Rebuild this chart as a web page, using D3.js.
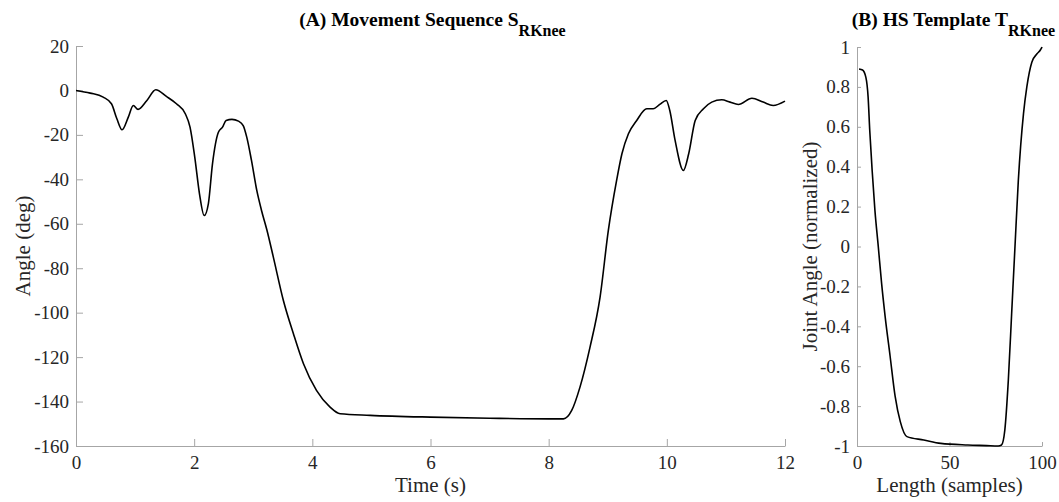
<!DOCTYPE html>
<html>
<head>
<meta charset="utf-8">
<script src="https://cdn.jsdelivr.net/npm/d3@7"></script>
<style>
  body { margin: 0; background: #fff; }
  svg text { font-family: "Liberation Serif", "Times New Roman", serif; }
</style>
</head>
<body>
<svg id="chart" width="1059" height="502"></svg>
<script>
// (A) movement sequence, right knee angle
var seqTime = [0, 0.24, 0.46, 0.6, 0.69, 0.78, 0.885, 0.97, 1.05, 1.2,
  1.35, 1.53, 1.7, 1.85, 1.93, 2.01, 2.09, 2.17, 2.24, 2.31,
  2.41, 2.48, 2.54, 2.64, 2.75, 2.83, 2.89, 2.97, 3.06, 3.14,
  3.23, 3.34, 3.51, 3.68, 3.85, 4.07, 4.3, 4.47, 4.98, 6.0,
  7.0, 8.0, 8.25, 8.39, 8.53, 8.7, 8.87, 9.01, 9.15, 9.24,
  9.35, 9.49, 9.66, 9.77, 9.88, 9.99, 10.05, 10.14, 10.28, 10.37,
  10.48, 10.62, 10.76, 10.93, 11.07, 11.21, 11.44, 11.63, 11.8, 12];
var seqAngle = [0, -1.2, -3, -6, -12.6, -17.7, -12, -6.75, -8.5, -4.5,
  0.3, -2.7, -6, -10.5, -16.5, -30, -46.5, -56.3, -51, -33,
  -18.8, -16.5, -13.5, -13, -13.8, -15.8, -21, -31.5, -45, -54,
  -62.7, -75, -94.5, -109.5, -123, -135, -142.5, -145.5, -146.2, -147,
  -147.5, -147.8, -147.8, -144, -133.5, -115.5, -93, -63, -40.5, -28.5,
  -19.5, -13.5, -8.25, -8.25, -6.3, -4.5, -9, -22.5, -36, -28.5,
  -13.5, -8.25, -5.25, -4.2, -5.25, -6.3, -3.5, -5.25, -6.75, -4.8];
var seqXTicks = [0, 2, 4, 6, 8, 10, 12];
var seqYTicks = [20, 0, -20, -40, -60, -80, -100, -120, -140, -160];

// (B) heel-strike template, normalized
var tplSample = [1.1, 3, 4.8, 6, 6.9, 8.2, 9.7, 11.5, 13.3, 15.2,
  17.9, 20.6, 23.4, 27, 36.1, 45.3, 59.9, 70, 76.3, 78.1,
  79.9, 81.8, 83.6, 85.4, 87.2, 90, 91.8, 94.5, 97.3, 99.1, 100];
var tplAngle = [0.89, 0.885, 0.848, 0.75, 0.58, 0.38, 0.18, 0, -0.185, -0.35,
  -0.55, -0.75, -0.878, -0.953, -0.97, -0.987, -0.995, -0.998, -1, -0.995,
  -0.92, -0.67, -0.335, 0, 0.33, 0.666, 0.8, 0.924, 0.966, 0.985, 1.0];
var tplXTicks = [0, 50, 100];
var tplYTicks = [1, 0.8, 0.6, 0.4, 0.2, 0, -0.2, -0.4, -0.6, -0.8, -1];

var svg = d3.select("#chart");
var axisColor = "#a6a6a6";
var labelColor = "#262626";
var serif = "'Liberation Serif', 'Times New Roman', serif";

function plain(d) { return String(d); }  // keep ascii hyphen like the original

function drawPanel(opt) {
  var x = d3.scaleLinear().domain(opt.xDomain).range([opt.left, opt.right]);
  var y = d3.scaleLinear().domain(opt.yDomain).range([opt.bottom, opt.top]);

  var xAxis = svg.append("g")
    .attr("transform", "translate(0," + opt.bottom + ")")
    .call(d3.axisBottom(x).tickValues(opt.xTicks)
      .tickSizeInner(-opt.tick).tickSizeOuter(0).tickPadding(10)
      .tickFormat(plain));
  var yAxis = svg.append("g")
    .attr("transform", "translate(" + opt.left + ",0)")
    .call(d3.axisLeft(y).tickValues(opt.yTicks)
      .tickSizeInner(-opt.tick).tickSizeOuter(0).tickPadding(7)
      .tickFormat(plain));

  [xAxis, yAxis].forEach(function(a) {
    a.attr("font-family", serif).attr("font-size", 19);
    a.select(".domain").attr("stroke", axisColor).attr("stroke-width", 1);
    a.selectAll(".tick line").attr("stroke", axisColor);
    a.selectAll(".tick text")
      .attr("fill", labelColor)
      .attr("font-family", serif)
      .attr("font-size", 19);
  });

  var points = opt.xs.map(function(d, i) { return [d, opt.ys[i]]; });
  var line = d3.line()
    .x(function(d) { return x(d[0]); })
    .y(function(d) { return y(d[1]); })
    .curve(d3.curveMonotoneX);

  svg.append("path")
    .datum(points)
    .attr("d", line)
    .attr("fill", "none")
    .attr("stroke", "#000")
    .attr("stroke-width", 1.6)
    .attr("stroke-linejoin", "round");

  // title with subscript
  var title = svg.append("text")
    .attr("x", (opt.left + opt.right) / 2 + opt.titleShift)
    .attr("y", 26)
    .attr("text-anchor", "middle")
    .attr("fill", "#000")
    .style("font-weight", "bold")
    .style("font-size", "19.5px");
  title.append("tspan").text(opt.title);
  title.append("tspan").attr("dy", 10).style("font-size", "16px").text("RKnee");

  svg.append("text")
    .attr("x", (opt.left + opt.right) / 2)
    .attr("y", 492)
    .attr("text-anchor", "middle")
    .attr("fill", labelColor)
    .style("font-size", "21px")
    .text(opt.xLabel);

  svg.append("text")
    .attr("transform", "translate(" + opt.yLabelX + "," + (opt.top + opt.bottom) / 2 + ") rotate(-90)")
    .attr("text-anchor", "middle")
    .attr("fill", labelColor)
    .style("font-size", "21px")
    .text(opt.yLabel);
}

drawPanel({
  left: 76, right: 785, top: 46, bottom: 446, tick: 7,
  xDomain: [0, 12], yDomain: [-160, 20],
  xTicks: seqXTicks, yTicks: seqYTicks,
  xs: seqTime, ys: seqAngle,
  title: "(A) Movement Sequence S", titleShift: 2,
  xLabel: "Time (s)", yLabel: "Angle (deg)", yLabelX: 30
});

drawPanel({
  left: 857, right: 1042, top: 47, bottom: 446, tick: 4,
  xDomain: [0, 100], yDomain: [-1, 1],
  xTicks: tplXTicks, yTicks: tplYTicks,
  xs: tplSample, ys: tplAngle,
  title: "(B) HS Template T", titleShift: 4,
  xLabel: "Length (samples)", yLabel: "Joint Angle (normalized)", yLabelX: 817
});
</script>
</body>
</html>
